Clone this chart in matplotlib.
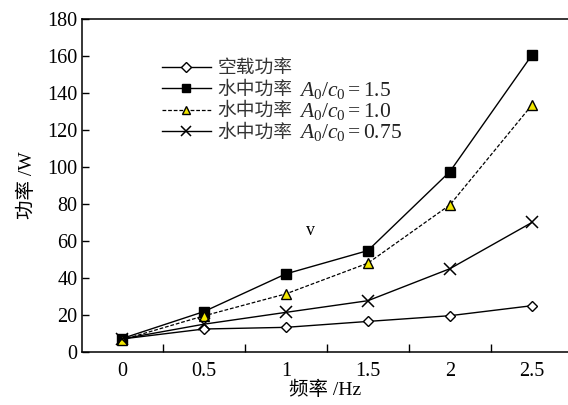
import matplotlib
matplotlib.use('Agg')
import matplotlib.pyplot as plt
from matplotlib.transforms import IdentityTransform

# 数据
freq = [0, 0.5, 1, 1.5, 2, 2.5]
p_empty = [7, 12.4, 13.3, 16.5, 19.6, 25]
p_15 = [7.2, 21.8, 42.2, 54.8, 97.5, 160.5]
p_10 = [6.5, 19.5, 31.4, 48, 79.5, 133.5]
p_075 = [7, 15, 21.4, 27.7, 45, 70]

labels = ['空载功率', '水中功率', '水中功率', '水中功率']
ratio_txt = ['', '$A_0/c_0{=}1.5$', '$A_0/c_0{=}1.0$', '$A_0/c_0{=}0.75$']

plt.rcParams['font.family'] = ['Liberation Serif', 'Noto Sans CJK SC']
plt.rcParams['mathtext.fontset'] = 'custom'
plt.rcParams['mathtext.rm'] = 'Liberation Serif'
plt.rcParams['mathtext.it'] = 'Liberation Serif:italic'
plt.rcParams['font.size'] = 14.5

fig = plt.figure(figsize=(5.68, 4.05), dpi=100)
ax = fig.add_axes([0.144, 0.131, 0.856, 0.822])

ax.plot(freq, p_empty, 'k-', marker='D', ms=5.5, mfc='white', mec='k', lw=1, label=labels[0])
ax.plot(freq, p_15, 'k-', marker='s', ms=7.5, mfc='k', mec='k', lw=1, label=labels[1])
ax.plot(freq, p_10, 'k--', marker='^', ms=7.5, mfc='#f2e600', mec='k', lw=0.9,
        dashes=(3, 1.5), label=labels[2])
ax.plot(freq, p_075, 'k-', marker='x', ms=8, mew=1.1, lw=1, label=labels[3])

ax.text(1.12, 63, 'v', fontsize=13)

ax.set_xlim(-0.244, 2.72)
ax.set_ylim(0, 180)
ax.set_xticks(freq)
ax.set_xticklabels(['0', '0.5', '1', '1.5', '2', '2.5'])
ax.set_xticks([0.25, 0.75, 1.25, 1.75, 2.25], minor=True)
ax.tick_params(axis='x', which='major', length=0, pad=7)
ax.tick_params(axis='x', which='minor', direction='in', length=6, width=1)
ax.set_yticks(range(0, 181, 20))
ax.tick_params(axis='y', direction='in', length=5, width=1, pad=3)
ax.spines['right'].set_visible(False)
for s in ['left', 'bottom', 'top']:
    ax.spines[s].set_linewidth(1.1)

ax.set_xlabel('频率 /Hz', labelpad=0, fontsize=14)
ax.set_ylabel('功率 /W', labelpad=8, fontsize=14)

leg = ax.legend(loc='upper left', bbox_to_anchor=(0.165, 0.885), frameon=False,
                handlelength=2.6, handletextpad=0.35, labelspacing=0.02,
                borderpad=0, borderaxespad=0, markerscale=0.85,
                prop={'family': ['Noto Sans CJK SC'], 'size': 13.5})
for t in leg.get_texts():
    t.set_color('#333333')

# A0/c0 部分用较大的字号接在图例文字后面
fig.canvas.draw()
for t, s in zip(leg.get_texts(), ratio_txt):
    if not s:
        continue
    bb = t.get_window_extent()
    fig.text(bb.x1 + 7, (bb.y0 + bb.y1) / 2 - 1, s, transform=IdentityTransform(),
             fontsize=15.5, va='center', ha='left', color='#222222')

fig.savefig('out.png', dpi=100)
